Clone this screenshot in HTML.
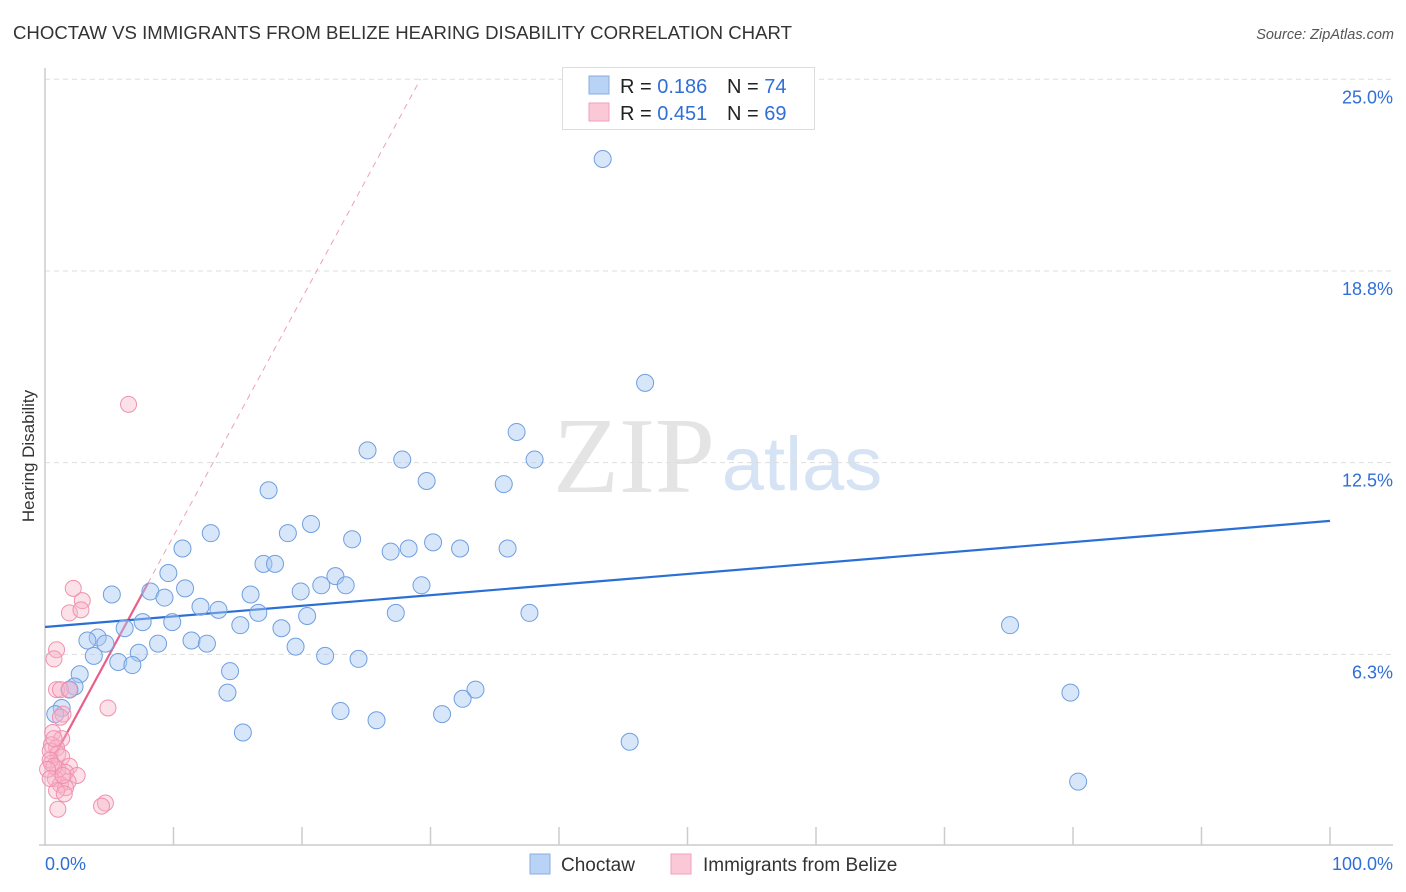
<!DOCTYPE html>
<html><head><meta charset="utf-8"><style>
body{margin:0;background:#fff;font-family:"Liberation Sans",sans-serif;}
svg{display:block}
</style></head><body>
<svg id="c" width="1406" height="892" xmlns="http://www.w3.org/2000/svg">
<text x="13" y="39" font-size="18.6" fill="#333">CHOCTAW VS IMMIGRANTS FROM BELIZE HEARING DISABILITY CORRELATION CHART</text>
<text x="1394" y="39" font-size="14.5" fill="#555" font-style="italic" text-anchor="end">Source: ZipAtlas.com</text>
<text x="34" y="456" font-size="17" fill="#333" text-anchor="middle" transform="rotate(-90 34 456)">Hearing Disability</text>
<g>
<text x="634" y="492" font-size="108" fill="#e4e4e4" font-family="Liberation Serif,serif" text-anchor="middle">ZIP</text>
<text x="802" y="490" font-size="76" fill="#d5e3f5" text-anchor="middle">atlas</text>
</g>
<g id="grid"></g><g id="axes"></g><g id="lines"></g><g id="pts"></g>
<g>
<rect x="562.5" y="67.5" width="252" height="62" fill="#fff" stroke="#ddd"/>
<rect x="589" y="76" width="20" height="18" fill="#b8d3f5" stroke="#88aee0"/>
<text x="620" y="93" font-size="20" fill="#222">R = <tspan fill="#2f6fd6">0.186</tspan><tspan x="727">N = </tspan><tspan fill="#2f6fd6">74</tspan></text>
<rect x="589" y="103" width="20" height="18" fill="#fac8d6" stroke="#f0a0b8"/>
<text x="620" y="120" font-size="20" fill="#222">R = <tspan fill="#2f6fd6">0.451</tspan><tspan x="727">N = </tspan><tspan fill="#2f6fd6">69</tspan></text>
</g>
<g>
<rect x="530" y="854" width="20" height="20" fill="#b8d3f5" stroke="#88aee0"/>
<text x="561" y="871" font-size="19" fill="#333">Choctaw</text>
<rect x="671" y="854" width="20" height="20" fill="#fac8d6" stroke="#f0a0b8"/>
<text x="703" y="871" font-size="19" fill="#333">Immigrants from Belize</text>
</g>
</svg>
<script>
const yTicks=[6.3,12.5,18.8,25.0];
const yTickVals=[6.25,12.5,18.75,25];
const blueX=[43.4,46.7,36.7,25.1,27.8,38.1,29.7,35.7,17.4,20.7,18.9,12.9,23.9,30.2,10.7,26.9,28.3,32.3,36.0,17.0,17.9,9.6,22.6,21.5,23.4,29.3,10.9,19.9,8.2,5.2,9.3,16.0,12.1,13.5,16.6,20.4,27.3,37.7,7.6,9.9,15.2,6.2,18.4,75.1,4.1,3.3,4.7,11.4,12.6,8.8,19.5,7.3,3.8,5.7,6.8,21.8,24.4,14.4,2.7,2.3,33.5,1.9,14.2,32.5,79.8,1.3,23.0,0.8,25.8,30.9,15.4,45.5,80.4];
const blueY=[22.4,15.1,13.5,12.9,12.6,12.6,11.9,11.8,11.6,10.5,10.2,10.2,10.0,9.9,9.7,9.6,9.7,9.7,9.7,9.2,9.2,8.9,8.8,8.5,8.5,8.5,8.4,8.3,8.3,8.2,8.1,8.2,7.8,7.7,7.6,7.5,7.6,7.6,7.3,7.3,7.2,7.1,7.1,7.2,6.8,6.7,6.6,6.7,6.6,6.6,6.5,6.3,6.2,6.0,5.9,6.2,6.1,5.7,5.6,5.2,5.1,5.1,5.0,4.8,5.0,4.5,4.4,4.3,4.1,4.3,3.7,3.4,2.1];
const pinkX=[6.5,2.2,2.9,1.9,2.8,0.9,0.7,0.9,1.2,1.9,4.9,1.4,1.2,0.6,1.3,0.5,0.9,0.4,1.0,1.3,0.5,1.9,1.0,1.6,2.5,0.8,1.8,1.2,1.6,0.9,1.5,4.7,4.4,1.0,0.7,0.4,0.7,0.2,0.4,1.4];
const pinkY=[14.4,8.4,8.0,7.6,7.7,6.4,6.1,5.1,5.1,5.1,4.5,4.3,4.2,3.7,3.5,3.3,3.2,3.1,3.0,2.9,2.7,2.6,2.5,2.4,2.3,2.2,2.1,2.0,1.9,1.8,1.7,1.4,1.3,1.2,3.5,2.8,2.6,2.5,2.2,2.3];
const blueTrend=[7.14,10.6];
const pinkTrend=[2.36,0.775];
const X=v=>45+v*12.85, Y=v=>846-v*30.67;
const NS="http://www.w3.org/2000/svg";
function mk(tag,attrs,parent){const e=document.createElementNS(NS,tag);for(const k in attrs)e.setAttribute(k,attrs[k]);document.getElementById(parent).appendChild(e);return e;}
yTickVals.forEach((v,i)=>{
 const g=mk('line',{x1:45,x2:1393,y1:Y(v),y2:Y(v),stroke:'#ddd','stroke-dasharray':'5,4'},'grid');
 
 
 const t=mk('text',{x:1393,y:Y(v)+24,'font-size':18,fill:'#2f6fd6','text-anchor':'end'},'grid');
 t.textContent=yTicks[i].toFixed(1)+'%';
 
 
});
let a=mk('line',{x1:45,x2:45,y1:68,y2:846,stroke:'#ccc','stroke-width':1.5},'axes');


a=mk('line',{x1:39,x2:1393,y1:845,y2:845,stroke:'#ccc','stroke-width':1.5},'axes');


for(let i=1;i<=10;i++){const t=mk('line',{x1:X(i*10),x2:X(i*10),y1:827,y2:845,stroke:'#ccc','stroke-width':1.5},'axes');
 
 }
let l=mk('text',{x:45,y:870,'font-size':18,fill:'#2f6fd6'},'axes');l.textContent='0.0%';


l=mk('text',{x:1393,y:870,'font-size':18,fill:'#2f6fd6','text-anchor':'end'},'axes');l.textContent='100.0%';


const pl=x=>pinkTrend[0]+pinkTrend[1]*x;
let d=mk('line',{x1:X(8),y1:Y(pl(8)),x2:X((25-pinkTrend[0])/pinkTrend[1]),y2:Y(25),stroke:'#f0a0b8','stroke-dasharray':'6,5','stroke-width':1},'lines');


d=mk('line',{x1:X(0.4),y1:Y(pl(0.4)),x2:X(8),y2:Y(pl(8)),stroke:'#e8608a','stroke-width':2.2},'lines');


d=mk('line',{x1:X(0),y1:Y(blueTrend[0]),x2:X(100),y2:Y(blueTrend[1]),stroke:'#2a6fd6','stroke-width':2.2},'lines');


blueX.forEach((x,i)=>{const c=mk('circle',{cx:X(x),cy:Y(blueY[i]),r:8.5,fill:'rgba(168,200,242,0.45)',stroke:'#6f9fe0','stroke-width':1},'pts');
 
 });
pinkX.forEach((x,i)=>{const c=mk('circle',{cx:X(x),cy:Y(pinkY[i]),r:8,fill:'rgba(248,180,200,0.4)',stroke:'#f090b0','stroke-width':1},'pts');
 
 });
</script>
</body></html>
